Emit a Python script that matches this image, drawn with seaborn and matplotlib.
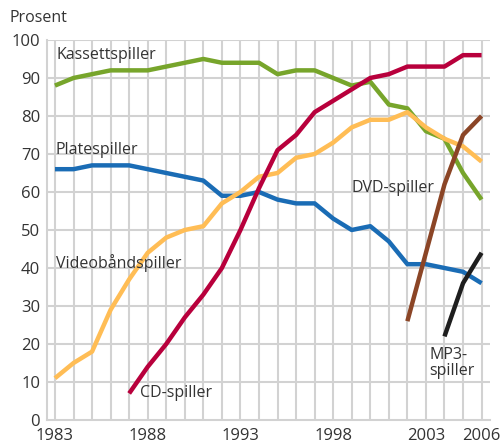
import numpy as np
import pandas as pd
import matplotlib.pyplot as plt
import seaborn as sns

years = list(range(1983, 2007))
kassett = [88, 90, 91, 92, 92, 92, 93, 94, 95, 94, 94, 94, 91, 92, 92, 90, 88, 89, 83, 82, 76, 74, 65, 58]
plate = [66, 66, 67, 67, 67, 66, 65, 64, 63, 59, 59, 60, 58, 57, 57, 53, 50, 51, 47, 41, 41, 40, 39, 36]
video = [11, 15, 18, 29, 37, 44, 48, 50, 51, 57, 60, 64, 65, 69, 70, 73, 77, 79, 79, 81, 77, 74, 72, 68]
cd_years = list(range(1987, 2007))
cd = [7, 14, 20, 27, 33, 40, 50, 61, 71, 75, 81, 84, 87, 90, 91, 93, 93, 93, 96, 96]
dvd_years = [2002, 2003, 2004, 2005, 2006]
dvd = [26, 44, 62, 75, 80]
mp3_years = [2004, 2005, 2006]
mp3 = [22, 36, 44]

series = ['Kassettspiller', 'Platespiller', 'Videobåndspiller', 'CD-spiller', 'DVD-spiller', 'MP3-spiller']
colors = ['#77a52b', '#1a6cb5', '#ffbd55', '#b8003c', '#8b4526', '#1e1e1e']

frames = [
    pd.DataFrame({'year': years, 'value': kassett, 'series': series[0]}),
    pd.DataFrame({'year': years, 'value': plate, 'series': series[1]}),
    pd.DataFrame({'year': years, 'value': video, 'series': series[2]}),
    pd.DataFrame({'year': cd_years, 'value': cd, 'series': series[3]}),
    pd.DataFrame({'year': dvd_years, 'value': dvd, 'series': series[4]}),
    pd.DataFrame({'year': mp3_years, 'value': mp3, 'series': series[5]}),
]
df = pd.concat(frames, ignore_index=True)

sns.set_style('white')
plt.rcParams['font.family'] = ['Open Sans', 'DejaVu Sans']
text_color = '#333333'
grid_color = '#d2d2d2'

fig = plt.figure(figsize=(5.03, 4.44), dpi=100)
ax = fig.add_axes([0.0934, 0.054, 0.8806, 0.856])

for yr in years:
    ax.axvline(yr, color=grid_color, lw=1.5, zorder=0)
for v in range(10, 101, 10):
    ax.axhline(v, color=grid_color, lw=1.5, zorder=0)

sns.lineplot(data=df, x='year', y='value', hue='series', hue_order=series,
             palette=colors, linewidth=3.2, legend=False, ax=ax, zorder=3)
for line in ax.lines[-6:]:
    line.set_solid_capstyle('butt')

ax.set_xlim(1982.57, 2006.45)
ax.set_ylim(0, 100)
ax.set_xticks([1983, 1988, 1993, 1998, 2003, 2006])
ax.set_yticks(range(0, 101, 10))
ax.tick_params(axis='both', length=0, labelsize=12, colors=text_color)
ax.tick_params(axis='x', pad=6)
ax.tick_params(axis='y', pad=5)
ax.set_xlabel('')
ax.set_ylabel('')
for side in ['top', 'right']:
    ax.spines[side].set_visible(False)
for side in ['left', 'bottom']:
    ax.spines[side].set_color(grid_color)
    ax.spines[side].set_linewidth(1.5)

lab = dict(fontsize=11.5, color=text_color, va='center', ha='left', zorder=5)
ax.text(1983.1, 96, 'Kassettspiller', **lab)
ax.text(1983.05, 71, 'Platespiller', **lab)
ax.text(1983.05, 41.4, 'Videobåndspiller', **lab)
ax.text(1987.6, 7.1, 'CD-spiller', **lab)
ax.text(1999.0, 61, 'DVD-spiller', **lab)
ax.text(2003.2, 15, 'MP3-\nspiller', linespacing=1.0, **lab)

fig.text(0.018, 0.96, 'Prosent', fontsize=11.5, color=text_color, va='center', ha='left')

fig.savefig('out.png', dpi=100)
